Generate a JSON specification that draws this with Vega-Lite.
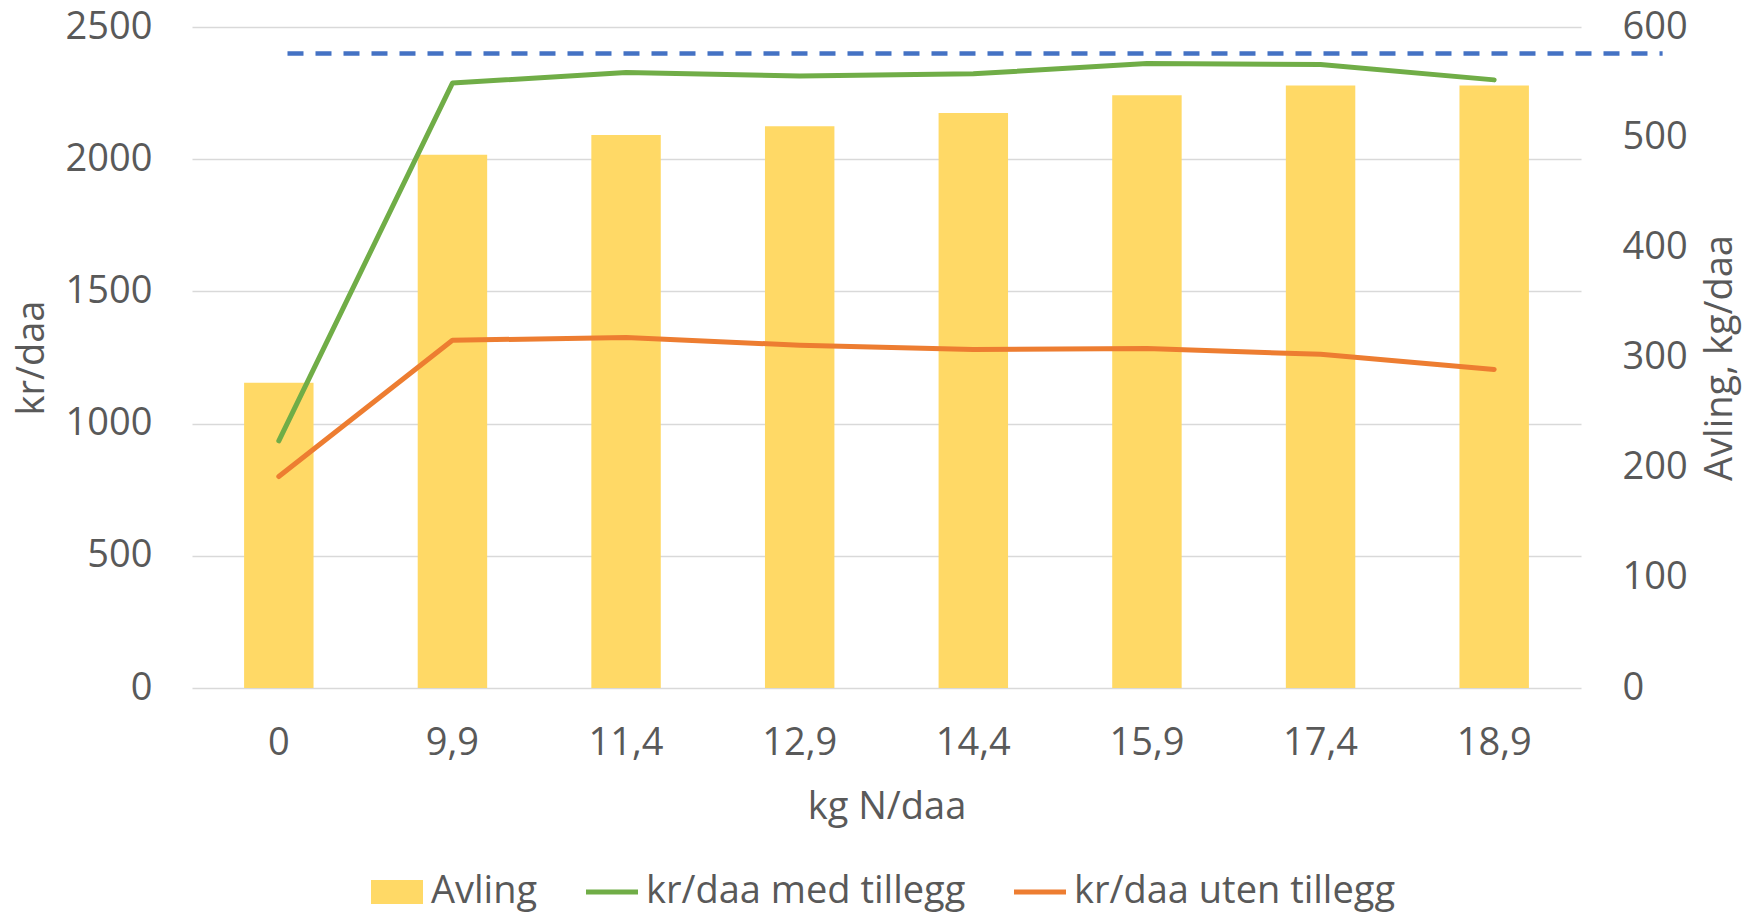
{
  "$schema": "https://vega.github.io/schema/vega-lite/v6.json",
  "width": 1389,
  "height": 661,
  "autosize": {"type": "none"},
  "padding": {"left": 192, "top": 27, "right": 165, "bottom": 229},
  "background": "white",
  "config": {
    "view": {"stroke": null},
    "font": "Open Sans",
    "axis": {
      "labelColor": "#595959",
      "titleColor": "#595959",
      "labelFontSize": 38,
      "titleFontSize": 38,
      "titleFontWeight": "normal",
      "domain": false,
      "ticks": false,
      "gridColor": "#d9d9d9",
      "gridWidth": 1.5
    },
    "legend": {
      "labelFontSize": 38,
      "labelColor": "#595959",
      "labelLimit": 1000
    }
  },
  "datasets": {
    "main": [
      {"n": "0", "series": "Avling", "value": 277},
      {"n": "9,9", "series": "Avling", "value": 484},
      {"n": "11,4", "series": "Avling", "value": 502},
      {"n": "12,9", "series": "Avling", "value": 510},
      {"n": "14,4", "series": "Avling", "value": 522},
      {"n": "15,9", "series": "Avling", "value": 538},
      {"n": "17,4", "series": "Avling", "value": 547},
      {"n": "18,9", "series": "Avling", "value": 547},
      {"n": "0", "series": "kr/daa med tillegg", "value": 935},
      {"n": "9,9", "series": "kr/daa med tillegg", "value": 2288},
      {"n": "11,4", "series": "kr/daa med tillegg", "value": 2328},
      {"n": "12,9", "series": "kr/daa med tillegg", "value": 2315},
      {"n": "14,4", "series": "kr/daa med tillegg", "value": 2323},
      {"n": "15,9", "series": "kr/daa med tillegg", "value": 2362},
      {"n": "17,4", "series": "kr/daa med tillegg", "value": 2358},
      {"n": "18,9", "series": "kr/daa med tillegg", "value": 2300},
      {"n": "0", "series": "kr/daa uten tillegg", "value": 800},
      {"n": "9,9", "series": "kr/daa uten tillegg", "value": 1315},
      {"n": "11,4", "series": "kr/daa uten tillegg", "value": 1326},
      {"n": "12,9", "series": "kr/daa uten tillegg", "value": 1296},
      {"n": "14,4", "series": "kr/daa uten tillegg", "value": 1280},
      {"n": "15,9", "series": "kr/daa uten tillegg", "value": 1284},
      {"n": "17,4", "series": "kr/daa uten tillegg", "value": 1262},
      {"n": "18,9", "series": "kr/daa uten tillegg", "value": 1205}
    ]
  },
  "layer": [
    {
      "data": {"name": "main"},
      "layer": [
        {
          "transform": [{"filter": "datum.series === 'Avling'"}],
          "mark": {"type": "bar"},
          "encoding": {
            "x": {
              "field": "n", "type": "nominal",
              "scale": {"domain": ["0", "9,9", "11,4", "12,9", "14,4", "15,9", "17,4", "18,9"], "paddingInner": 0.6, "paddingOuter": 0.3},
              "axis": {"title": "kg N/daa", "labelAngle": 0, "labelPadding": 36, "titlePadding": 26, "grid": false}
            },
            "y": {
              "field": "value", "type": "quantitative",
              "scale": {"domain": [0, 600], "nice": false},
              "axis": {"orient": "right", "title": "Avling, kg/daa", "values": [0, 100, 200, 300, 400, 500, 600], "format": "d", "grid": false, "labelPadding": 41, "titleAngle": -90, "titleBaseline": "top", "titlePadding": 14}
            },
            "color": {
              "field": "series", "type": "nominal",
              "scale": {"domain": ["Avling", "kr/daa med tillegg", "kr/daa uten tillegg"], "range": ["#ffd966", "#70ad47", "#ed7d31"]},
              "legend": {
                "title": null,
                "orient": "none",
                "direction": "horizontal",
                "legendX": 179,
                "legendY": 839,
                "columnPadding": 48,
                "labelOffset": 8,
                "symbolSize": 2704,
                "padding": 0,
                "encode": {
                  "symbols": {
                    "update": {
                      "shape": {"signal": "datum.value === 'Avling' ? 'M-1,-0.46H1V0.46H-1Z' : 'M-1,-0.1H1V0.1H-1Z'"},
                      "fill": {"signal": "datum.value === 'Avling' ? '#ffd966' : datum.value === 'kr/daa med tillegg' ? '#70ad47' : '#ed7d31'"},
                      "stroke": {"value": "transparent"},
                      "strokeWidth": {"value": 0},
                      "opacity": {"value": 1}
                    }
                  }
                }
              }
            }
          }
        },
        {
          "transform": [{"filter": "datum.series !== 'Avling'"}],
          "mark": {"type": "line", "strokeWidth": 5, "strokeCap": "round", "strokeJoin": "round"},
          "encoding": {
            "x": {
              "field": "n", "type": "nominal",
              "scale": {"domain": ["0", "9,9", "11,4", "12,9", "14,4", "15,9", "17,4", "18,9"], "paddingInner": 0.6, "paddingOuter": 0.3}
            },
            "y": {
              "field": "value", "type": "quantitative",
              "scale": {"domain": [0, 2500], "nice": false},
              "axis": {"orient": "left", "title": "kr/daa", "values": [0, 500, 1000, 1500, 2000, 2500], "format": "d", "grid": true, "labelPadding": 40, "titlePadding": 14}
            },
            "color": {"field": "series", "type": "nominal"}
          }
        }
      ],
      "resolve": {"scale": {"y": "independent"}}
    },
    {
      "data": {"values": [{"from": 0.05, "to": 7.97, "kr": 2400}]},
      "mark": {"type": "rule", "color": "#4472c4", "strokeWidth": 4.5, "strokeDash": [16, 12]},
      "encoding": {
        "x": {"field": "from", "type": "quantitative", "scale": {"domain": [-0.5, 7.5], "nice": false, "zero": false}, "axis": null},
        "x2": {"field": "to"},
        "y": {"field": "kr", "type": "quantitative", "scale": {"domain": [0, 2500], "nice": false}, "axis": null}
      }
    }
  ],
  "resolve": {"scale": {"x": "independent", "y": "independent"}}
}
